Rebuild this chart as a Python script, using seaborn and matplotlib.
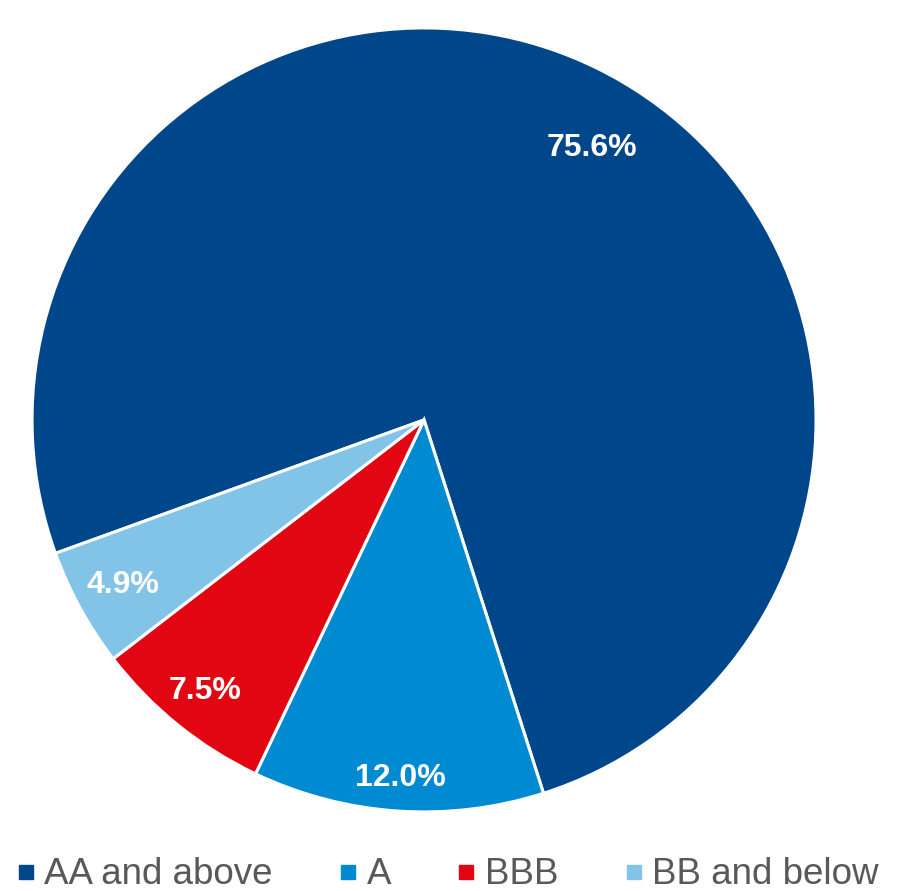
import numpy as np
import matplotlib.pyplot as plt
import seaborn as sns

# Data
ratings = ["AA and above", "A", "BBB", "BB and below"]
shares = [75.6, 12.0, 7.5, 4.9]
colors = ["#00468B", "#008AD2", "#E20613", "#82C3E8"]

sns.set_theme(style="white")
plt.rcParams['font.family'] = ['Liberation Sans', 'DejaVu Sans']

fig = plt.figure(figsize=(9.05, 8.91), dpi=100)
ax = fig.add_axes([0.0354, 0.0887, 0.8663, 0.880])

palette = sns.color_palette(colors)
wedges, texts, autotexts = ax.pie(
    shares, colors=palette, startangle=199.9, counterclock=False,
    autopct='%.1f%%', pctdistance=0.885, radius=1,
    wedgeprops=dict(edgecolor='white', linewidth=2.2),
    textprops=dict(color='white', fontsize=23, fontweight='bold'))

# place percentage labels roughly where the original has them
label_dist = [0.815, 0.915, 0.89, 0.875]
label_shift = [-5.5, 0, 0, 0]
for w, t, d, s in zip(wedges, autotexts, label_dist, label_shift):
    ang = np.deg2rad((w.theta1 + w.theta2) / 2 + s)
    t.set_position((d * np.cos(ang), d * np.sin(ang)))

ax.set_xlim(-1, 1)
ax.set_ylim(-1, 1)
ax.set_aspect('equal')
ax.axis('off')

# Legend
handles = [plt.Line2D([0], [0], marker='s', color='w', markersize=10,
                      markerfacecolor=c, markeredgecolor=c) for c in colors]
leg = fig.legend(handles, ratings, loc='center', bbox_to_anchor=(0.4956, 0.018),
                 ncol=4, frameon=False, fontsize=26.5, handlelength=0.4,
                 handletextpad=0.3, columnspacing=1.85, borderaxespad=0,
                 borderpad=0)
for t in leg.get_texts():
    t.set_color('#595959')

fig.savefig("out.png", dpi=100)
